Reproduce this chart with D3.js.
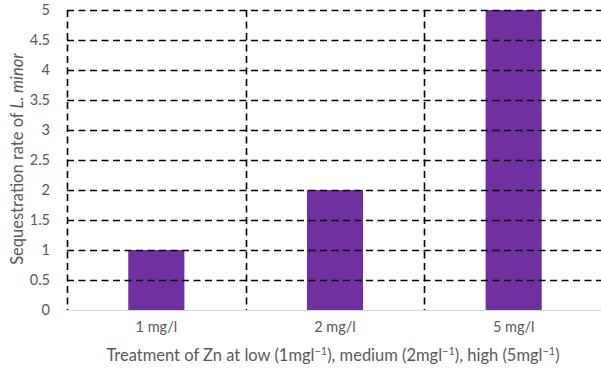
<!DOCTYPE html>
<html>
<head>
<meta charset="utf-8">
<script src="https://cdn.jsdelivr.net/npm/d3@7"></script>
<style>
  html, body { margin: 0; padding: 0; background: #fff; }
  svg { display: block; font-family: Lato, "Open Sans", sans-serif; }
</style>
</head>
<body>
<svg id="chart" width="601" height="373"></svg>
<script>
// Zn treatment levels and sequestration rate of L. minor
const categories = ["1 mg/l", "2 mg/l", "5 mg/l"];
const values = [1, 2, 5];
const yTicks = [0, 0.5, 1, 1.5, 2, 2.5, 3, 3.5, 4, 4.5, 5];
const yTickLabels = ["0", "0.5", "1", "1.5", "2", "2.5", "3", "3.5", "4", "4.5", "5"];

const svg = d3.select("#chart");
const margin = { left: 67, right: -2, top: 10, bottom: 63 };
const W = 601, H = 373;
const plotW = W - margin.left - margin.right;
const plotH = H - margin.top - margin.bottom;

const x = d3.scaleBand().domain(categories).range([margin.left, margin.left + plotW])
  .paddingInner(0).paddingOuter(0);
const y = d3.scaleLinear().domain([0, 5]).range([margin.top + plotH, margin.top]);

const barW = x.bandwidth() * 0.314;
const gridColor = "#000";
const dash = "7,4.5";
const textColor = "#595959";
const font = "Lato, 'Open Sans', sans-serif";

// bars
svg.append("g").selectAll("rect").data(values).join("rect")
  .attr("x", (d, i) => x(categories[i]) + x.bandwidth() / 2 - barW / 2)
  .attr("width", barW)
  .attr("y", d => y(d))
  .attr("height", d => y(0) - y(d))
  .attr("fill", "#7030a0");

// horizontal dashed gridlines
svg.append("g").selectAll("line").data(yTicks.filter(t => t > 0)).join("line")
  .attr("x1", margin.left).attr("x2", W)
  .attr("y1", d => Math.round(y(d)) + 0.5).attr("y2", d => Math.round(y(d)) + 0.5)
  .attr("stroke", gridColor).attr("stroke-width", 1.6).attr("stroke-dasharray", dash);

// vertical dashed gridlines at category boundaries
svg.append("g").selectAll("line").data(categories).join("line")
  .attr("x1", d => Math.round(x(d)) + 0.5).attr("x2", d => Math.round(x(d)) + 0.5)
  .attr("y1", y(5)).attr("y2", y(0))
  .attr("stroke", gridColor).attr("stroke-width", 1.6).attr("stroke-dasharray", dash);

// baseline
svg.append("line")
  .attr("x1", margin.left).attr("x2", W)
  .attr("y1", y(0) + 0.5).attr("y2", y(0) + 0.5)
  .attr("stroke", "#d9d9d9").attr("stroke-width", 1);

// y axis labels
const yAxis = d3.axisLeft(y).tickValues(yTicks)
  .tickFormat((d, i) => yTickLabels[i]).tickSize(0).tickPadding(17);
const gy = svg.append("g").attr("transform", `translate(${margin.left},0)`).call(yAxis);
gy.select(".domain").remove();
gy.selectAll("text").attr("fill", textColor).attr("font-size", 14.5).attr("font-family", font);

// x axis labels
const xAxis = d3.axisBottom(x).tickSize(0).tickPadding(12);
const gx = svg.append("g").attr("transform", `translate(0,${y(0)})`).call(xAxis);
gx.select(".domain").remove();
gx.selectAll("text").attr("fill", textColor).attr("font-size", 14.5).attr("font-family", font);

// y axis title
const yt = svg.append("text")
  .attr("transform", `translate(23,${margin.top + plotH / 2 - 1}) rotate(-90)`)
  .attr("text-anchor", "middle").attr("fill", textColor).attr("font-size", 16.5);
yt.append("tspan").text("Sequestration rate of ");
yt.append("tspan").attr("font-style", "italic").text("L. minor");

// x axis title with superscript units
const xt = svg.append("text")
  .attr("x", 333).attr("y", 361)
  .attr("text-anchor", "middle").attr("fill", textColor).attr("font-size", 16.5);
const parts = ["Treatment of Zn at low (1mgl", "), medium (2mgl", "), high (5mgl", ")"];
parts.forEach((t, i) => {
  xt.append("tspan").attr("dy", i === 0 ? 0 : 6).text(t);
  if (i < parts.length - 1) {
    xt.append("tspan").attr("dy", -6).attr("font-size", 11).text("\u22121");
  }
});
</script>
</body>
</html>
